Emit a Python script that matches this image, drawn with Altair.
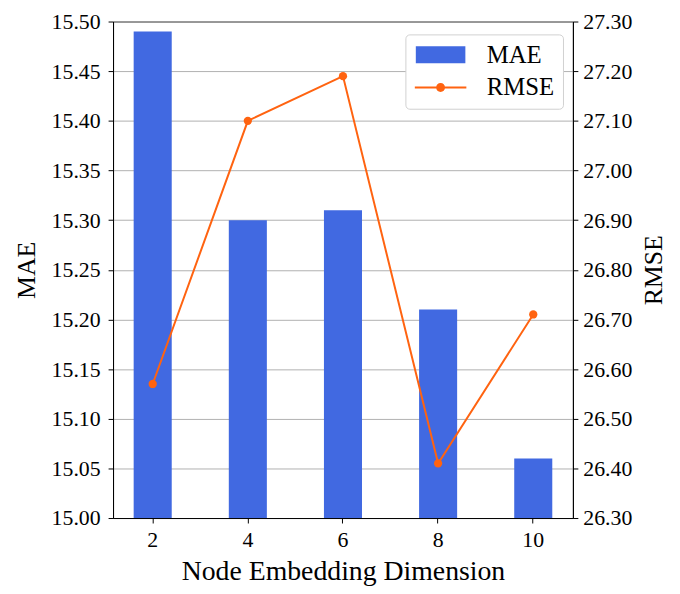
import altair as alt
import pandas as pd

dims = [2, 4, 6, 8, 10]
mae = [15.49, 15.30, 15.31, 15.21, 15.06]
rmse = [26.57, 27.10, 27.19, 26.41, 26.71]
mae_ticks = [15.00, 15.05, 15.10, 15.15, 15.20, 15.25, 15.30, 15.35, 15.40, 15.45, 15.50]
rmse_ticks = [26.3, 26.4, 26.5, 26.6, 26.7, 26.8, 26.9, 27.0, 27.1, 27.2, 27.3]
series = ["MAE", "RMSE"]

BLUE = "#4169e1"
ORANGE = "#ff6310"
FONT = "Liberation Serif"
LFONT = "Liberation Serif, Times New Roman, serif"

df = pd.DataFrame({"dim": dims, "mae": mae, "rmse": rmse})

xenc = alt.X(
    "dim:O",
    title="Node Embedding Dimension",
    scale=alt.Scale(paddingInner=0.6, paddingOuter=0.2167),
    axis=alt.Axis(labelAngle=0, titleFontSize=28, titlePadding=7, labelPadding=7,
                  labelFont=LFONT, titleFont=FONT, labelFontSize=22),
)

bars = alt.Chart(df).mark_bar(color=BLUE, clip=True).encode(
    x=xenc,
    y=alt.Y(
        "mae:Q",
        title="MAE",
        scale=alt.Scale(domain=[15.0, 15.5], nice=False, zero=False),
        axis=alt.Axis(values=mae_ticks, format=".2f", grid=True, orient="left",
                      titlePadding=12, labelPadding=8, labelFont=LFONT, titleFont=FONT,
                      labelFontSize=22),
    ),
)

line = alt.Chart(df).mark_line(
    color=ORANGE, strokeWidth=2,
    point=alt.OverlayMarkDef(filled=True, size=70, color=ORANGE, opacity=1),
).encode(
    x=xenc,
    y=alt.Y(
        "rmse:Q",
        title="RMSE",
        scale=alt.Scale(domain=[26.3, 27.3], nice=False, zero=False),
        axis=alt.Axis(values=rmse_ticks, format=".2f", grid=False, orient="right",
                      titleAngle=270, titleBaseline="top", titlePadding=9,
                      labelFont=LFONT, titleFont=FONT, labelFontSize=22),
    ),
)

rect_path = "M-1,-0.85H4V0.85H-1Z"
line_path = ("M-1.1,-0.1H4.1V0.1H-1.1Z "
             "M1.05,0A0.45,0.45 0 1,1 1.95,0A0.45,0.45 0 1,1 1.05,0Z")

legend = alt.Legend(
    title=None, orient="none", legendX=295, legendY=13,
    labelFontSize=25, labelFont=FONT, labelColor="black", labelOffset=49,
    symbolSize=400, symbolOpacity=1, symbolStrokeWidth=0,
    rowPadding=7, padding=8, cornerRadius=4,
    fillColor="white", strokeColor="#d0d0d0",
)

legend_driver = alt.Chart(df).transform_calculate(series="'RMSE'").mark_point(
    filled=True, opacity=0
).encode(
    x=xenc,
    y=alt.Y("rmse:Q"),
    color=alt.Color("series:N", scale=alt.Scale(domain=series, range=[BLUE, ORANGE]),
                    legend=legend),
    shape=alt.Shape("series:N", scale=alt.Scale(domain=series, range=[rect_path, line_path]),
                    legend=legend),
)

right = alt.layer(line, legend_driver)

chart = alt.layer(bars, right).resolve_scale(y="independent").properties(
    width=464, height=501, padding={"left": 5, "top": 0, "right": 5, "bottom": 5}
).configure(
    font=FONT,
    style={"guide-label": {"font": LFONT, "fontSize": 22}},
).configure_view(
    stroke="black", strokeWidth=1
).configure_axis(
    labelFont=LFONT, titleFont=FONT, labelFontSize=22, titleFontSize=26,
    labelColor="black", titleColor="black", titleFontWeight="normal",
    domainColor="black", tickColor="black", tickSize=5, labelPadding=5,
    gridColor="#b0b0b0", gridWidth=1,
)

chart.save("out.html", embed_options={"renderer": "svg", "actions": False})
